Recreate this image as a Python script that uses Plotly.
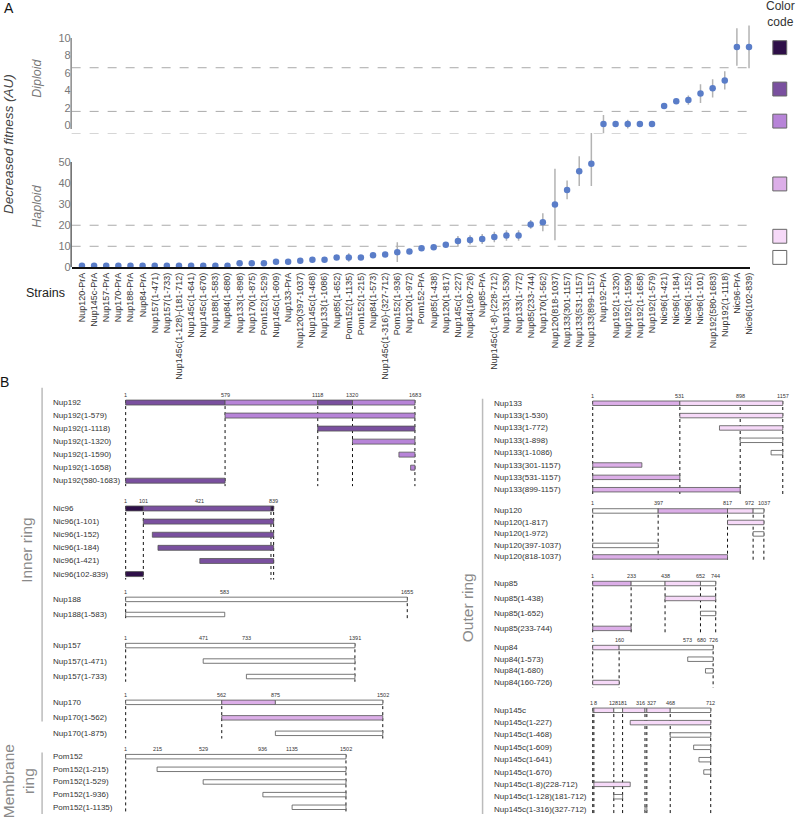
import plotly.graph_objects as go

W, H = 800, 824
def fx(px): return px / W
def fy(py): return 1 - py / H

FONT = "Liberation Sans, Arial, sans-serif"

# ---------------- Panel A data ----------------
strains = [
    "Nup120-PrA", "Nup145c-PrA", "Nup157-PrA", "Nup170-PrA", "Nup188-PrA", "Nup84-PrA",
    "Nup157(1-471)", "Nup157(1-733)", "Nup145c(1-128)-(181-712)", "Nup145c(1-641)",
    "Nup145c(1-670)", "Nup188(1-583)", "Nup84(1-680)",
    "Nup133(1-898)", "Nup170(1-875)", "Pom152(1-529)", "Nup145c(1-609)", "Nup133-PrA",
    "Nup120(397-1037)", "Nup145c(1-468)", "Nup133(1-1086)", "Nup85(1-652)", "Pom152(1-1135)",
    "Pom152(1-215)", "Nup84(1-573)", "Nup145c(1-316)-(327-712)", "Pom152(1-936)",
    "Nup120(1-972)", "Pom152-PrA", "Nup85(1-438)", "Nup120(1-817)", "Nup145c(1-227)",
    "Nup84(160-726)", "Nup85-PrA", "Nup145c(1-8)-(228-712)", "Nup133(1-530)", "Nup133(1-772)",
    "Nup85(233-744)", "Nup170(1-562)", "Nup120(818-1037)", "Nup133(301-1157)",
    "Nup133(531-1157)", "Nup133(899-1157)",
    "Nup192-PrA", "Nup192(1-1320)", "Nup192(1-1590)", "Nup192(1-1658)", "Nup192(1-579)",
    "Nic96(1-421)", "Nic96(1-184)", "Nic96(1-152)", "Nic96(1-101)", "Nup192(580-1683)",
    "Nup192(1-1118)", "Nic96-PrA", "Nic96(102-839)",
]
N_HAPLOID = 43  # first 43 strains measured in haploid, remaining in diploid

haploid_values = [0.8, 0.8, 0.8, 0.8, 0.8, 0.8, 0.8, 0.8, 0.8, 0.8, 0.8, 0.8, 0.8,
                  2.0, 2.0, 2.0, 2.6, 2.6, 3.1, 3.6, 3.6, 4.7, 4.7, 4.7, 5.7, 6.1, 7.2,
                  7.5, 9.1, 9.6, 10.7, 12.5, 13.0, 13.5, 14.4, 15.1, 15.1, 20.4, 21.4,
                  29.9, 36.8, 45.7, 49.2]
haploid_err_plus = [0, 0, 0, 0, 0, 0, 0, 0, 0, 0, 0, 0, 0,
                    0, 0, 0, 0, 0, 0, 0, 0, 0, 2.0, 0, 0, 0, 4.7,
                    0, 0, 0, 0.6, 2.4, 2.2, 2.4, 2.5, 2.5, 2.5, 2.1, 4.3,
                    17.0, 4.5, 7.1, 14.6]
haploid_err_minus = [0, 0, 0, 0, 0, 0, 0, 0, 0, 0, 0, 0, 0,
                     0, 0, 0, 0, 0, 0, 0, 0, 0, 2.0, 0, 0, 0, 4.7,
                     0, 0, 0, 0.6, 2.4, 2.2, 2.4, 2.5, 2.5, 2.5, 2.1, 4.3,
                     17.0, 4.5, 7.1, 10.5]
diploid_values = [0.15, 0.15, 0.15, 0.15, 0.15, 2.23, 2.76, 2.9, 3.64, 4.24, 5.15, 8.98, 8.98]
diploid_err = [1.05, 0, 0.5, 0, 0, 0, 0, 0.53, 1.08, 1.04, 1.04, 2.15, 2.45]

diploid_ticks = [0, 2, 4, 6, 8, 10]
haploid_ticks = [0, 10, 20, 30, 40, 50]
diploid_thresholds = [6.6, 1.6, -0.99]
haploid_thresholds = [20, 10]

# ---------------- Panel B data ----------------
# colour classes: 1 darkest ... 5 palest, 6 white
COLORS = {1: "#2e0f48", 2: "#7a509f", 3: "#b784d8", 4: "#dcaee8", 5: "#f6d9f8", 6: "#ffffff"}

nup192_rows = ["Nup192", "Nup192(1-579)", "Nup192(1-1118)", "Nup192(1-1320)",
               "Nup192(1-1590)", "Nup192(1-1658)", "Nup192(580-1683)"]
nup192_segs = [[(1, 579, 2), (579, 1118, 3), (1118, 1320, 2), (1320, 1683, 3)],
               [(579, 1683, 3)], [(1118, 1683, 2)], [(1320, 1683, 3)],
               [(1590, 1683, 3)], [(1658, 1683, 3)], [(1, 579, 2)]]
nic96_rows = ["Nic96", "Nic96(1-101)", "Nic96(1-152)", "Nic96(1-184)", "Nic96(1-421)", "Nic96(102-839)"]
nic96_segs = [[(1, 101, 1), (101, 824, 2), (824, 839, 1)],
              [(101, 839, 2)], [(152, 839, 2)], [(184, 839, 2)], [(421, 839, 2)], [(1, 101, 1)]]
nup188_rows = ["Nup188", "Nup188(1-583)"]
nup188_segs = [[(1, 1655, 6)], [(1, 583, 6)]]
nup157_rows = ["Nup157", "Nup157(1-471)", "Nup157(1-733)"]
nup157_segs = [[(1, 1391, 6)], [(471, 1391, 6)], [(733, 1391, 6)]]
nup170_rows = ["Nup170", "Nup170(1-562)", "Nup170(1-875)"]
nup170_segs = [[(1, 562, 6), (562, 875, 4), (875, 1502, 6)], [(562, 1502, 4)], [(875, 1502, 6)]]
pom152_rows = ["Pom152", "Pom152(1-215)", "Pom152(1-529)", "Pom152(1-936)", "Pom152(1-1135)"]
pom152_segs = [[(1, 1502, 6)], [(215, 1502, 6)], [(529, 1502, 6)], [(936, 1502, 6)], [(1135, 1502, 6)]]
nup133_rows = ["Nup133", "Nup133(1-530)", "Nup133(1-772)", "Nup133(1-898)", "Nup133(1-1086)",
               "Nup133(301-1157)", "Nup133(531-1157)", "Nup133(899-1157)"]
nup133_segs = [[(1, 531, 4), (531, 1157, 5)], [(531, 1157, 5)], [(772, 1157, 5)], [(898, 1157, 6)],
               [(1086, 1157, 6)], [(1, 300, 4)], [(1, 531, 4)], [(1, 898, 4)]]
nup120_rows = ["Nup120", "Nup120(1-817)", "Nup120(1-972)", "Nup120(397-1037)", "Nup120(818-1037)"]
nup120_segs = [[(1, 397, 6), (397, 817, 4), (817, 972, 5), (972, 1037, 6)],
               [(817, 1037, 5)], [(972, 1037, 6)], [(1, 397, 6)], [(1, 817, 4)]]
nup85_rows = ["Nup85", "Nup85(1-438)", "Nup85(1-652)", "Nup85(233-744)"]
nup85_segs = [[(1, 233, 4), (233, 438, 6), (438, 652, 5), (652, 744, 6)],
              [(438, 744, 5)], [(652, 744, 6)], [(1, 233, 4)]]
nup84_rows = ["Nup84", "Nup84(1-573)", "Nup84(1-680)", "Nup84(160-726)"]
nup84_segs = [[(1, 160, 5), (160, 726, 6)], [(573, 726, 6)], [(680, 726, 6)], [(1, 160, 5)]]
nup145c_rows = ["Nup145c", "Nup145c(1-227)", "Nup145c(1-468)", "Nup145c(1-609)", "Nup145c(1-641)",
                "Nup145c(1-670)", "Nup145c(1-8)(228-712)", "Nup145c(1-128)(181-712)",
                "Nup145c(1-316)(327-712)"]
nup145c_segs = [[(1, 8, 6), (8, 128, 5), (128, 181, 6), (181, 316, 5), (316, 327, 6), (327, 468, 5), (468, 712, 6)],
                [(227, 712, 5)], [(468, 712, 6)], [(609, 712, 6)], [(641, 712, 6)], [(670, 712, 6)],
                [(8, 227, 5)], [(128, 181, 6)], [(316, 327, 6)]]

GROUPS = [
    ("Nup192", 1683, nup192_rows, nup192_segs, [1, 579, 1118, 1320, 1683], [1, 579, 1118, 1320, 1683]),
    ("Nic96", 839, nic96_rows, nic96_segs, [1, 101, 421, 839], [1, 101, 824, 839]),
    ("Nup188", 1655, nup188_rows, nup188_segs, [1, 583, 1655], [1, 1655]),
    ("Nup157", 1391, nup157_rows, nup157_segs, [1, 471, 733, 1391], [1, 1391]),
    ("Nup170", 1502, nup170_rows, nup170_segs, [1, 562, 875, 1502], [1, 562, 1502]),
    ("Pom152", 1502, pom152_rows, pom152_segs, [1, 215, 529, 936, 1135, 1502], [1, 1502]),
    ("Nup133", 1157, nup133_rows, nup133_segs, [1, 531, 898, 1157], [1, 531, 898, 1157]),
    ("Nup120", 1037, nup120_rows, nup120_segs, [1, 397, 817, 972, 1037], [1, 397, 817, 972, 1037]),
    ("Nup85", 744, nup85_rows, nup85_segs, [1, 233, 438, 652, 744], [1, 233, 438, 652, 744]),
    ("Nup84", 726, nup84_rows, nup84_segs, [1, 160, 573, 680, 726], [1, 160, 726]),
    ("Nup145c", 712, nup145c_rows, nup145c_segs, [1, 8, 128, 181, 316, 327, 468, 712],
     [1, 8, 128, 181, 316, 327, 468, 712]),
]

# ---------------- placement (pixels) ----------------
# name: (px of residue 1, px of last residue, py first row, py last row, label px, bar height px)
PLACE = {
    "Nup192": (126.3, 417.0, 405.5, 484.2, 51.7, 5.0),
    "Nic96": (126.3, 275.0, 512.2, 578.3, 51.7, 5.0),
    "Nup188": (126.3, 409.3, 603.8, 619.0, 51.7, 4.5),
    "Nup157": (126.3, 356.7, 650.3, 681.5, 51.7, 4.5),
    "Nup170": (126.3, 384.7, 707.5, 738.7, 51.7, 4.5),
    "Pom152": (126.3, 347.7, 762.2, 813.2, 51.7, 4.5),
    "Nup133": (595.7, 786.7, 406.2, 493.3, 494.3, 4.5),
    "Nup120": (595.7, 767.7, 514.7, 561.0, 494.3, 4.5),
    "Nup85": (595.7, 719.3, 587.8, 633.0, 494.3, 4.5),
    "Nup84": (595.7, 716.7, 652.3, 687.5, 494.3, 4.5),
    "Nup145c": (595.7, 714.3, 715.5, 815.0, 494.3, 4.5),
}
MARK_XSHIFT = {("Nup145c", 1): -1.5, ("Nup145c", 8): 2, ("Nup145c", 316): -5,
               ("Nup145c", 327): 5, ("Nup120", 972): -4, ("Nup84", 680): -4}

fig = go.Figure()
layout = dict(
    width=W, height=H, margin=dict(l=0, r=0, t=0, b=0),
    paper_bgcolor="white", plot_bgcolor="rgba(0,0,0,0)",
    showlegend=False, barmode="overlay",
    font=dict(family=FONT, color="#333"),
)
shapes, annotations = [], []

# ---------------- Panel A ----------------
X_L, X_R = 72, 754
H0, HK = 269.3, 2.12   # haploid zero px, px per unit
D0, DK = 126.3, 8.8    # diploid zero px, px per unit
h_top = 64.3
d_lo, d_hi = -1.0, 12.0

layout["xaxis"] = dict(domain=[fx(X_L), fx(X_R)], anchor="y", type="category",
                       categoryorder="array", categoryarray=strains,
                       range=[-0.85, 55.1], showline=True, linecolor="#111", linewidth=1.5,
                       ticks="", tickangle=-90, tickfont=dict(size=9, color="#333"),
                       showgrid=False, zeroline=False, fixedrange=True)
layout["yaxis"] = dict(domain=[fy(H0), fy(H0 - h_top * HK)], anchor="x", range=[0, h_top],
                       tickvals=haploid_ticks, showgrid=False, zeroline=False, showline=False,
                       ticks="", tickfont=dict(size=11, color="#777"), fixedrange=True)
layout["yaxis2"] = dict(domain=[fy(D0 - d_lo * DK), fy(D0 - d_hi * DK)], anchor="x",
                        range=[d_lo, d_hi], tickvals=diploid_ticks, showgrid=False,
                        zeroline=False, showline=False, ticks="",
                        tickfont=dict(size=11, color="#777"), fixedrange=True)

marker = dict(color="#5a7dc8", size=6.5)
fig.add_trace(go.Scatter(
    x=strains[:N_HAPLOID], y=haploid_values, mode="markers", marker=marker,
    xaxis="x", yaxis="y", cliponaxis=False, hoverinfo="skip",
    error_y=dict(type="data", symmetric=False, array=haploid_err_plus,
                 arrayminus=haploid_err_minus, color="#b3b3b3", thickness=1.5, width=0)))
fig.add_trace(go.Scatter(
    x=strains[N_HAPLOID:], y=diploid_values, mode="markers", marker=marker,
    xaxis="x", yaxis="y2", cliponaxis=False, hoverinfo="skip",
    error_y=dict(type="data", array=diploid_err, color="#b3b3b3", thickness=1.5, width=0)))

for v in diploid_thresholds:
    shapes.append(dict(type="line", xref="paper", yref="y2", x0=fx(X_L), x1=fx(X_R), y0=v, y1=v,
                       line=dict(color="#aaaaaa", width=1, dash="dash"), layer="below"))
for v in haploid_thresholds:
    shapes.append(dict(type="line", xref="paper", yref="y", x0=fx(X_L), x1=fx(X_R), y0=v, y1=v,
                       line=dict(color="#aaaaaa", width=1, dash="dash"), layer="below"))
# y axis lines
shapes.append(dict(type="line", xref="paper", yref="y2", x0=fx(71.5), x1=fx(71.5),
                   y0=-0.42, y1=diploid_ticks[-1], line=dict(color="#8a8a8a", width=1.5)))
shapes.append(dict(type="line", xref="paper", yref="y", x0=fx(71.5), x1=fx(71.5),
                   y0=0, y1=haploid_ticks[-1], line=dict(color="#666", width=1.5)))

def ann(px, py, text, size, color="#333", angle=0, italic=False, xanchor="center", yanchor="middle"):
    annotations.append(dict(xref="paper", yref="paper", x=fx(px), y=fy(py), text=text,
                            showarrow=False, textangle=angle, xanchor=xanchor, yanchor=yanchor,
                            font=dict(size=size, color=color, family=FONT,
                                      style="italic" if italic else "normal")))

ann(9, 8, "A", 14, "#111")
ann(5, 385, "B", 14, "#111")
ann(9, 145, "Decreased fitness (AU)", 13.5, "#444", -90, True)
ann(37.5, 79, "Diploid", 12.5, "#777", -90, True)
ann(37.5, 208, "Haploid", 12.5, "#777", -90, True)
ann(45.5, 295, "Strains", 12.5, "#222")
ann(784, 14, "Color<br>code", 12, "#333")

legend_codes = [1, 2, 3, 4, 5, 6]
legend_py = [41, 82.7, 115, 178.3, 231, 252.3]
for code, top in zip(legend_codes, legend_py):
    shapes.append(dict(type="rect", xref="paper", yref="paper", x0=fx(776.7), x1=fx(790.7),
                       y0=fy(top + 14), y1=fy(top), fillcolor=COLORS[code],
                       line=dict(color="#666", width=1)))

# ---------------- Panel B ----------------
ann(27, 554, "Inner ring", 15.5, "#8a8a8a", -90)
ann(18, 787, "Membrane<br>ring", 15.5, "#8a8a8a", -90)
ann(470, 612, "Outer ring", 15.5, "#8a8a8a", -90)
for (x, y0, y1) in [(42.3, 390.7, 726.7), (42.3, 758, 820), (485, 401.7, 820)]:
    shapes.append(dict(type="line", xref="paper", yref="paper", x0=fx(x), x1=fx(x),
                       y0=fy(y0), y1=fy(y1), line=dict(color="#bbbbbb", width=1.5)))

for gi, (name, length, rows, segs, marks, dotted) in enumerate(GROUPS):
    k = gi + 3
    p1, pL, r_top, r_bot, lab_px, bar_px = PLACE[name]
    n = len(rows)
    s = (r_bot - r_top) / (n - 1)
    kx = (pL - p1) / (length - 1)
    pad = 6
    layout[f"xaxis{k}"] = dict(domain=[fx(p1 - pad), fx(pL + pad)], anchor=f"y{k}",
                               range=[1 - pad / kx, length + pad / kx], visible=False, fixedrange=True)
    layout[f"yaxis{k}"] = dict(domain=[fy(r_bot + s / 2), fy(r_top - s / 2)], anchor=f"x{k}",
                               range=[n - 0.5, -0.5], visible=False, fixedrange=True)
    ys, xs, bases, cols = [], [], [], []
    for ri, row in enumerate(segs):
        for (a, b, c) in row:
            ys.append(ri); bases.append(a); xs.append(b - a); cols.append(COLORS[c])
    fig.add_trace(go.Bar(y=ys, x=xs, base=bases, orientation="h", width=bar_px / s,
                         marker=dict(color=cols, line=dict(color="#555", width=0.8)),
                         xaxis=f"x{k}", yaxis=f"y{k}", hoverinfo="skip"))
    for ri, label in enumerate(rows):
        annotations.append(dict(xref="paper", yref=f"y{k}", x=fx(lab_px), y=ri, text=label,
                                showarrow=False, xanchor="left", yanchor="middle",
                                font=dict(size=8, color="#333", family=FONT)))
    for m in marks:
        annotations.append(dict(xref=f"x{k}", yref=f"y{k}", x=m, y=0, yshift=7.5,
                                xshift=MARK_XSHIFT.get((name, m), 0), text=str(m),
                                showarrow=False, xanchor="center", yanchor="middle",
                                font=dict(size=5.5, color="#333", family=FONT)))
    for d in dotted:
        shapes.append(dict(type="line", xref=f"x{k}", yref=f"y{k}", x0=d, x1=d,
                           y0=-(bar_px / 2) / s, y1=(n - 1) + (bar_px / 2 + 3) / s,
                           line=dict(color="#111", width=1, dash="dot"), layer="below"))

layout["shapes"] = shapes
layout["annotations"] = annotations
fig.update_layout(**layout)
fig.write_html("out.html", config={"displayModeBar": False},
               post_script="document.body.style.margin='0';document.body.style.padding='0';")
